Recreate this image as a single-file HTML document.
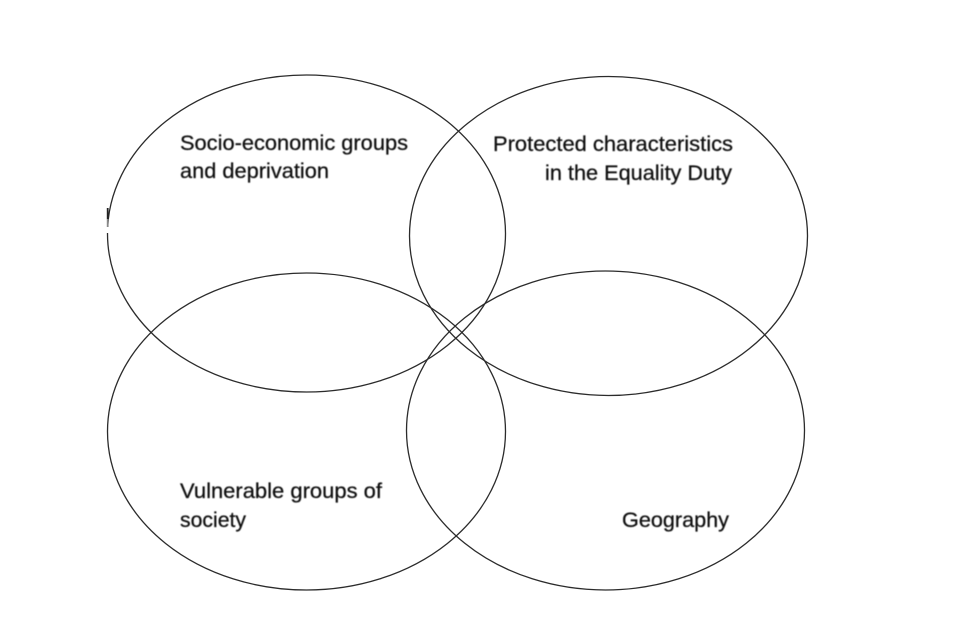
<!DOCTYPE html>
<html>
<head>
<meta charset="utf-8">
<style>
html,body{margin:0;padding:0;background:#fff;width:960px;height:640px;overflow:hidden}
svg{display:block}
text{font-family:"Liberation Sans",sans-serif;font-size:21.5px;fill:#111;stroke:#111;stroke-width:0.25;filter:url(#b)}
ellipse{fill:none;stroke:#2b2b2b;stroke-width:1.3}
</style>
</head>
<body>
<svg width="960" height="640" viewBox="0 0 960 640" xmlns="http://www.w3.org/2000/svg">
<defs><filter id="b" x="-5%" y="-20%" width="110%" height="140%"><feGaussianBlur stdDeviation="0.5"/></filter></defs>
<ellipse cx="306.500" cy="233.500" rx="199" ry="158.500"/>
<ellipse cx="608.500" cy="236" rx="199" ry="159.500"/>
<ellipse cx="306.500" cy="431.500" rx="199" ry="158.500"/>
<ellipse cx="605.500" cy="430.500" rx="199" ry="159.500"/>
<rect x="104" y="227" width="7" height="6" fill="#fff"/>
<path d="M107.700 208V219" stroke="#222" stroke-width="1.800" fill="none"/>
<path d="M107.700 219V227" stroke="#888" stroke-width="1.800" fill="none"/>
<text x="180" y="150" textLength="228" lengthAdjust="spacingAndGlyphs">Socio-economic groups</text>
<text x="180" y="178" textLength="149" lengthAdjust="spacingAndGlyphs">and deprivation</text>
<text x="493" y="151" textLength="240" lengthAdjust="spacingAndGlyphs">Protected characteristics</text>
<text x="545" y="180" textLength="187" lengthAdjust="spacingAndGlyphs">in the Equality Duty</text>
<text x="180" y="498" textLength="202" lengthAdjust="spacingAndGlyphs">Vulnerable groups of</text>
<text x="180" y="527" textLength="66" lengthAdjust="spacingAndGlyphs">society</text>
<text x="622" y="527" textLength="107" lengthAdjust="spacingAndGlyphs">Geography</text>
</svg>
</body>
</html>
